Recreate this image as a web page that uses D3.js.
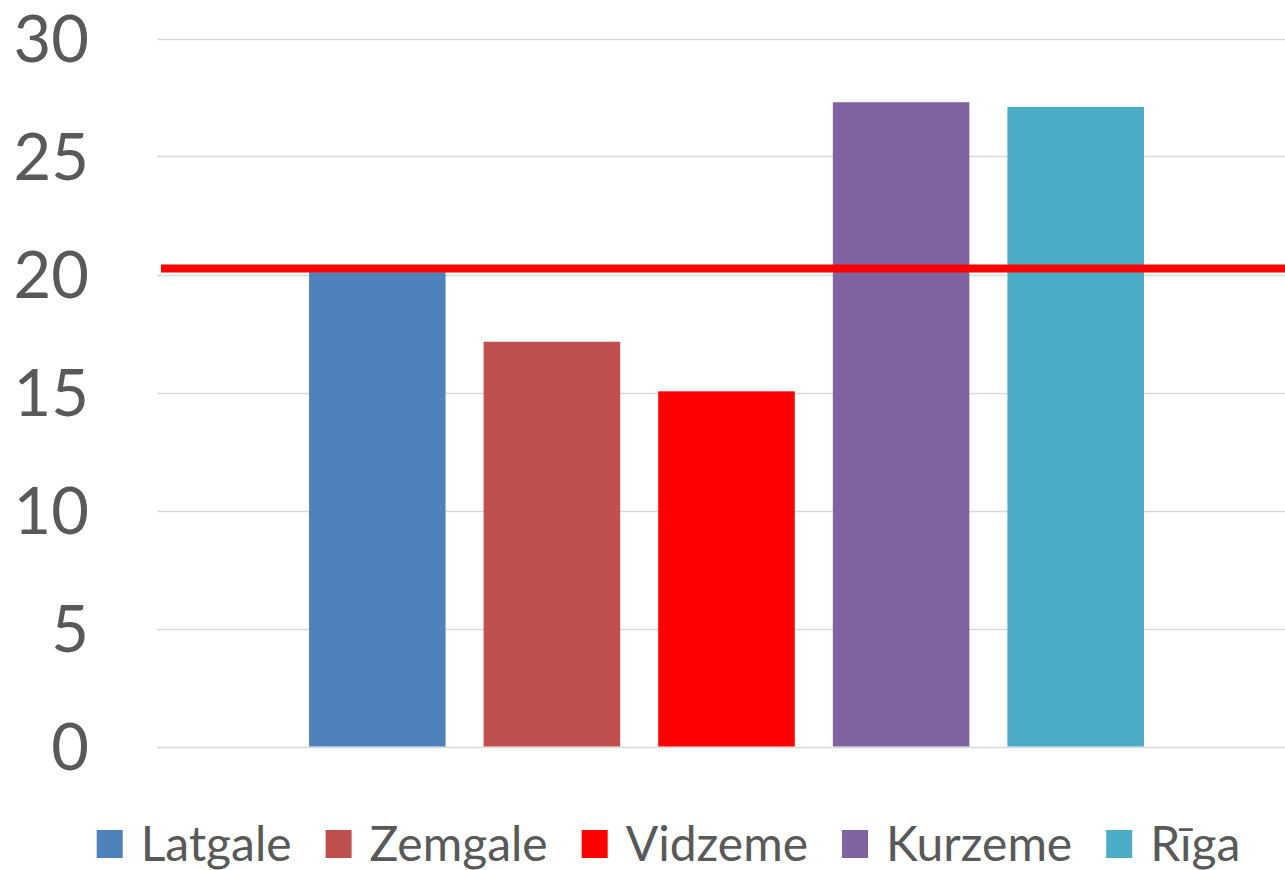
<!DOCTYPE html>
<html>
<head>
<meta charset="utf-8">
<script src="https://cdn.jsdelivr.net/npm/d3@7"></script>
<style>
html,body{margin:0;padding:0;background:#fff;overflow:hidden;}
svg{display:block;}
</style>
</head>
<body>
<svg id="chart" width="1285" height="870"></svg>
<script>
const categories = ["Latgale", "Zemgale", "Vidzeme", "Kurzeme", "Rīga"];
const values = [20.1, 17.15, 15.05, 27.3, 27.1];
const colors = ["#4F81BD", "#C0504D", "#FF0000", "#8064A2", "#4BACC6"];
const yTicks = [0, 5, 10, 15, 20, 25, 30];
const refValue = 20.25;

const svg = d3.select("#chart");
const font = "Lato, 'Open Sans', sans-serif";
const textColor = "#595959";

const plotLeft = 157, plotRight = 1285;
const y = d3.scaleLinear().domain([0, 30]).range([746.5, 38.5]);
const x = d3.scaleBand().domain(categories).range([290, 1163]).paddingInner(0.218).paddingOuter(0.109);

// gridlines
svg.append("g").selectAll("line").data(yTicks).join("line")
  .attr("x1", plotLeft).attr("x2", plotRight)
  .attr("y1", d => Math.round(y(d)) + 0.5).attr("y2", d => Math.round(y(d)) + 0.5)
  .attr("stroke", "#D9D9D9").attr("stroke-width", 1.5);

// y axis labels
const yAxis = d3.axisLeft(y).tickValues(yTicks).tickSize(0).tickPadding(0);
const ya = svg.append("g").attr("transform", "translate(89,0)").call(yAxis);
ya.select(".domain").remove();
ya.selectAll("text")
  .attr("font-family", font).attr("font-size", 65).attr("fill", textColor)
  .attr("dy", "0.36em").attr("x", 0);

// bars
svg.append("g").selectAll("rect").data(categories).join("rect")
  .attr("x", d => x(d)).attr("width", x.bandwidth())
  .attr("y", (d, i) => y(values[i])).attr("height", (d, i) => y(0) - y(values[i]))
  .attr("fill", (d, i) => colors[i]);

// reference line
svg.append("line")
  .attr("x1", 161).attr("x2", 1285)
  .attr("y1", y(refValue)).attr("y2", y(refValue))
  .attr("stroke", "#FF0000").attr("stroke-width", 8);

// legend
const lg = svg.append("g");
const swW = 26, swH = 28, gapSwText = 18, gapItems = 34, fontSize = 48;
const items = lg.selectAll("g").data(categories).join("g");
items.append("rect").attr("width", swW).attr("height", swH)
  .attr("y", 830).attr("fill", (d, i) => colors[i]);
items.append("text").text(d => d)
  .attr("x", swW + gapSwText).attr("y", 861)
  .attr("font-family", font).attr("font-size", fontSize).attr("fill", textColor);
let pos = 0;
const offsets = [];
items.each(function () {
  const w = d3.select(this).select("text").node().getComputedTextLength();
  offsets.push(pos);
  pos += swW + gapSwText + w + gapItems;
});
const total = pos - gapItems;
const start = 668.5 - total / 2;
items.attr("transform", (d, i) => `translate(${start + offsets[i]},0)`);
</script>
</body>
</html>
